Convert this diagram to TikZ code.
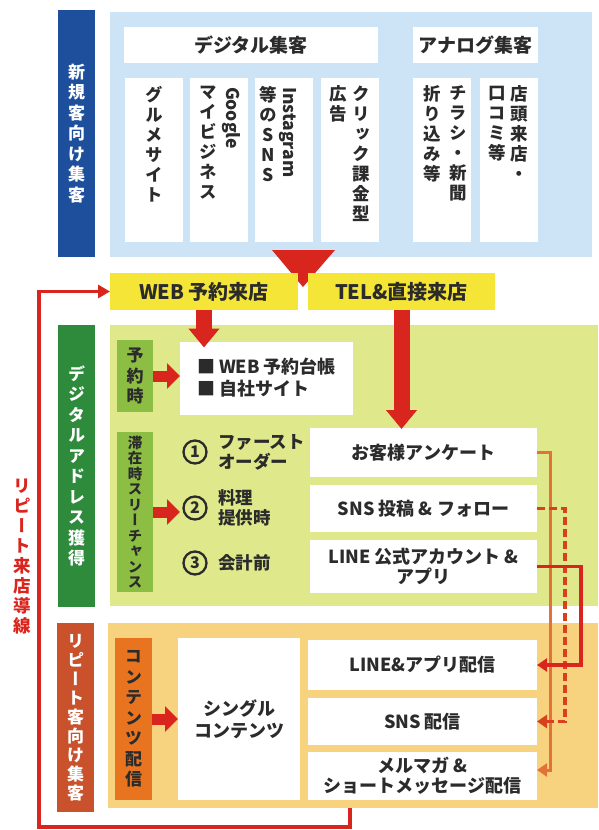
\documentclass[tikz,border=0pt]{standalone}
\usepackage{fontspec}
\setmainfont{Noto Sans CJK JP}
\newfontfamily\vfont[RawFeature=+vert]{Noto Sans CJK JP}
\usetikzlibrary{arrows.meta,calc}
\definecolor{bluebar}{HTML}{1D4F9C}
\definecolor{lightblue}{HTML}{CDE4F6}
\definecolor{yel}{HTML}{F5E536}
\definecolor{redA}{HTML}{D8251D}
\definecolor{redB}{HTML}{D8401E}
\definecolor{greenbar}{HTML}{2E8B3C}
\definecolor{lightgreen}{HTML}{DFE98C}
\definecolor{midgreen}{HTML}{8DBE44}
\definecolor{orangebar}{HTML}{C9512B}
\definecolor{lightorange}{HTML}{F7D37F}
\definecolor{orangebox}{HTML}{E9741F}
\definecolor{orangeline}{HTML}{E07335}
\definecolor{txt}{HTML}{2B2B2B}
\tikzset{
 area/.style={inner sep=0pt, outer sep=0pt, draw=none},
 wbox/.style={area, fill=white, text=txt, font=\bfseries\fontsize{18}{20}\selectfont, align=center},
 vtext/.style={inner sep=0pt, outer sep=0pt, align=center, font=\vfont\bfseries\fontsize{17.5}{20}\selectfont, text=txt},
 barlabel/.style={area, align=center, font=\vfont\bfseries\fontsize{17}{20.5}\selectfont},
 rotlat/.style={inner sep=0pt, outer sep=0pt, rotate=-90, font=\bfseries\fontsize{17.5}{20}\selectfont, text=txt},
 yelbox/.style={area, fill=yel, minimum height=37, text=txt, font=\bfseries\fontsize{20}{22}\selectfont},
 bigarrow/.style={draw=redA, line width=16pt, -{Triangle[length=19pt,width=30pt]}},
 smallarrow/.style={draw=redA, line width=11pt, -{Triangle[length=13pt,width=25pt]}},
 link/.style={line width=3.4pt, line join=miter, -{Triangle[length=10pt,width=13pt]}},
 circnum/.style={circle, draw=txt, line width=2.3pt, inner sep=0pt, minimum size=23pt, font=\bfseries\fontsize{16}{16}\selectfont, text=txt},
 circtext/.style={inner sep=0pt, anchor=west, align=left, font=\bfseries\fontsize{17.5}{20}\selectfont, text=txt},
}
\begin{document}
\begin{tikzpicture}[x=1pt,y=-1pt]
\useasboundingbox (0,0) rectangle (598,830);
\fill[white] (0,0) rectangle (598,830);
% ---------- new customers ----------
\node[area, fill=lightblue, minimum width=482, minimum height=245] (bluebg) at (351,134.5) {};
\node[barlabel, fill=bluebar, minimum width=37, minimum height=247, text=white] (newbar) at (76.5,133.5) {新\\規\\客\\向\\け\\集\\客};
\node[wbox, minimum width=254, minimum height=36, font=\bfseries\fontsize{19}{20}\selectfont] (digi) at (251,45) {デジタル集客};
\node[wbox, minimum width=125, minimum height=36, font=\bfseries\fontsize{19}{20}\selectfont] (analog) at (475.5,45) {アナログ集客};
\foreach \n/\x in {c1/154,c2/219,c3/284,c4/350,c5/442,c6/509}
  \node[area, fill=white, minimum width=58, minimum height=164] (\n) at (\x,160) {};
\node[vtext, anchor=north] (t1) at (154,86) {グ\\ル\\メ\\サ\\イ\\ト};
\node[vtext, anchor=north] (t2a) at (208,86) {マ\\イ\\ビ\\ジ\\ネ\\ス};
\node[rotlat, anchor=west] (t2b) at (231,87) {Google};
\node[vtext, anchor=north] (t3a) at (268,86) {等\\の\\S\\N\\S};
\node[rotlat, anchor=west] (t3b) at (288,87) {Instagram};
\node[vtext, anchor=north] (t4a) at (361,86) {ク\\リ\\ッ\\ク\\課\\金\\型};
\node[vtext, anchor=north] (t4b) at (338,86) {広\\告};
\node[vtext, anchor=north] (t5a) at (458,86) {チ\\ラ\\シ\\・\\新\\聞};
\node[vtext, anchor=north] (t5b) at (432,86) {折\\り\\込\\み\\等};
\node[vtext, anchor=north] (t6a) at (519,86) {店\\頭\\来\\店\\・};
\node[vtext, anchor=north] (t6b) at (497,86) {口\\コ\\ミ\\等};
\fill[redA] (272,250) -- (335,250) -- (303,287) -- cycle;
% ---------- entry ----------
\node[yelbox, minimum width=188] (web) at (204,291.5) {WEB 予約来店};
\node[yelbox, minimum width=187] (tel) at (401.5,291.5) {TEL\&直接来店};
% ---------- digital address ----------
\node[area, fill=lightgreen, minimum width=488, minimum height=281] (greenbg) at (354,465.5) {};
\node[barlabel, fill=greenbar, minimum width=37, minimum height=282, text=white] (dbar) at (76.5,466) {デ\\ジ\\タ\\ル\\ア\\ド\\レ\\ス\\獲\\得};
\node[barlabel, fill=midgreen, minimum width=36, minimum height=72, text=txt] (yoyaku) at (135,376) {予\\約\\時};
\node[wbox, minimum width=173, minimum height=73, align=left, font=\bfseries\fontsize{18}{22}\selectfont] (resv) at (266.5,378) {■ WEB 予約台帳\\■ 自社サイト};
\node[area, fill=midgreen, minimum width=36, minimum height=160, align=center, text=txt, font=\vfont\bfseries\fontsize{14.5}{15.5}\selectfont] (taizai) at (135,512) {滞\\在\\時\\ス\\リ\\ー\\チ\\ャ\\ン\\ス};
\node[circnum] (n1) at (195,452) {1};
\node[circtext] (o1) at (218,452) {ファースト\\オーダー};
\node[circnum] (n2) at (195,508) {2};
\node[circtext] (o2) at (218,508) {料理\\提供時};
\node[circnum] (n3) at (195,563) {3};
\node[circtext] (o3) at (218,563) {会計前};
\node[wbox, minimum width=227, minimum height=49] (anq) at (423.5,452.5) {お客様アンケート};
\node[wbox, minimum width=227, minimum height=47] (snsp) at (423.5,508.5) {SNS 投稿 \& フォロー};
\node[wbox, minimum width=227, minimum height=53, font=\bfseries\fontsize{18}{19.5}\selectfont] (linep) at (423.5,566.5) {LINE 公式アカウント \&\\アプリ};
% ---------- repeat customers ----------
\node[area, fill=lightorange, minimum width=490, minimum height=185] (orangebg) at (353,715.5) {};
\node[barlabel, fill=orangebar, minimum width=37, minimum height=189, text=white, font=\vfont\bfseries\fontsize{17}{19}\selectfont] (rbar) at (75.5,717.5) {リ\\ピ\\ー\\ト\\客\\向\\け\\集\\客};
\node[barlabel, fill=orangebox, minimum width=37, minimum height=162, text=txt] (cont) at (133.5,719) {コ\\ン\\テ\\ン\\ツ\\配\\信};
\node[wbox, minimum width=122, minimum height=162, font=\bfseries\fontsize{18}{22}\selectfont] (single) at (239,719) {シングル\\コンテンツ};
\node[wbox, minimum width=229, minimum height=50] (ldel) at (422.5,665) {LINE\&アプリ配信};
\node[wbox, minimum width=229, minimum height=47] (sdel) at (422.5,721.5) {SNS 配信};
\node[wbox, minimum width=229, minimum height=48, font=\bfseries\fontsize{18}{20}\selectfont] (mdel) at (422.5,776) {メルマガ \&\\ショートメッセージ配信};
% ---------- side label ----------
\node[vtext, text=redA] (loopl) at (22,557) {リ\\ピ\\ー\\ト\\来\\店\\導\\線};
% ---------- arrows ----------
\draw[bigarrow, shorten >=-6pt] (web.south) -- (web.south |- resv.north);
\draw[bigarrow, shorten >=-1pt] (tel.south) -- (tel.south |- anq.north);
\draw[smallarrow] (yoyaku.east) -- (yoyaku.east -| resv.west);
\draw[smallarrow] (taizai.east) -- (taizai.east -| resv.west);
\draw[smallarrow] (cont.east) -- (single.west);
\draw[link, color=orangeline, line width=3pt] (anq.east) -- ++(13,0) |- ([yshift=6pt]mdel.east);
\draw[link, color=redB, dash pattern=on 8pt off 4pt] (snsp.east) -- ++(28,0) |- (sdel.east);
\draw[link, color=redA, line width=3.8pt] (linep.east) -- ++(44,0) |- (ldel.east);
\coordinate (loopstart) at (350,808);
\draw[color=redA, line width=3.6pt, line join=miter, -{Triangle[length=12pt,width=13pt]}] (loopstart) -- (350,827) -| (39,291.5) -- (web.west);
\end{tikzpicture}
\end{document}
